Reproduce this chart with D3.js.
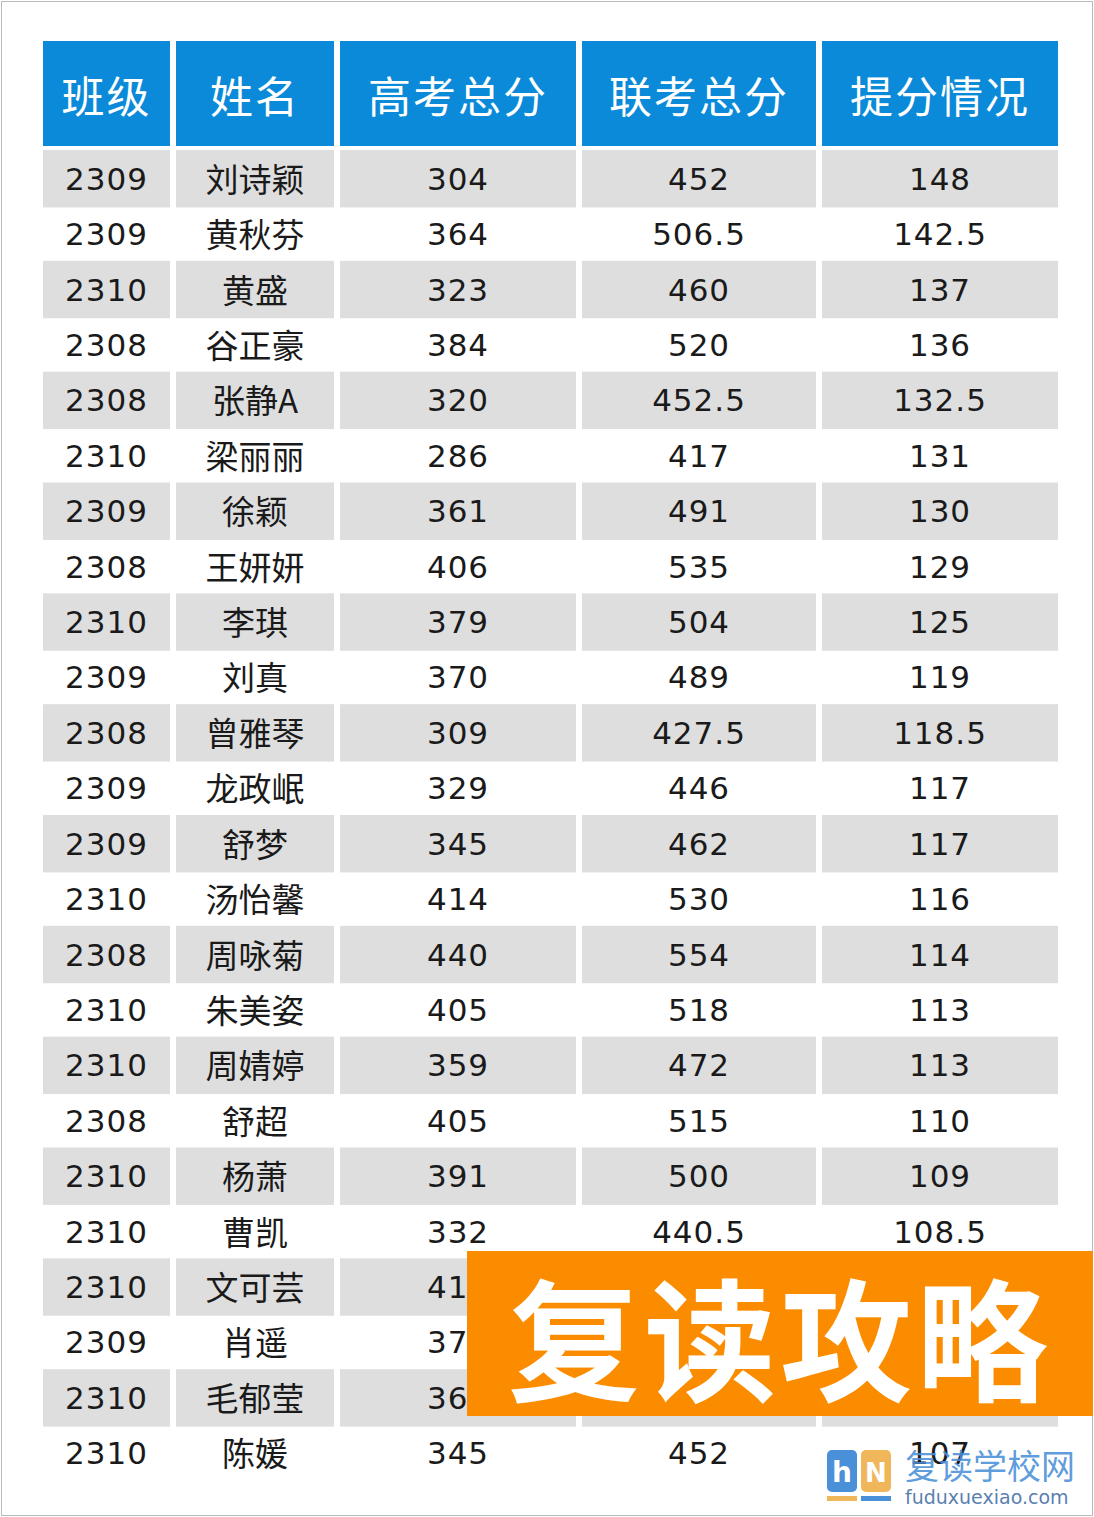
<!DOCTYPE html>
<html><head><meta charset="utf-8">
<script src="https://cdn.jsdelivr.net/npm/d3@7/dist/d3.min.js"></script>
<style>body{margin:0;background:#fff}svg{display:block}</style>
</head><body><svg id="c" width="1094" height="1517"></svg>
<script>
const headers = ["班级","姓名","高考总分","联考总分","提分情况"];
const classes = ["2309","2309","2310","2308","2308","2310","2309","2308","2310","2309","2308","2309","2309","2310","2308","2310","2310","2308","2310","2310","2310","2309","2310","2310"];
const names = ["刘诗颖","黄秋芬","黄盛","谷正豪","张静A","梁丽丽","徐颖","王妍妍","李琪","刘真","曾雅琴","龙政岷","舒梦","汤怡馨","周咏菊","朱美姿","周婧婷","舒超","杨萧","曹凯","文可芸","肖遥","毛郁莹","陈媛"];
const gaokao = ["304","364","323","384","320","286","361","406","379","370","309","329","345","414","440","405","359","405","391","332","412","375","363","345"];
const liankao = ["452","506.5","460","520","452.5","417","491","535","504","489","427.5","446","462","530","554","518","472","515","500","440.5","520","483","471","452"];
const tifen = ["148","142.5","137","136","132.5","131","130","129","125","119","118.5","117","117","116","114","113","113","110","109","108.5","108","108","108","107"];
const cols = [classes,names,gaokao,liankao,tifen];

const svg = d3.select("#c");
svg.append("rect").attr("x",1.5).attr("y",1.5).attr("width",1091).attr("height",1514).attr("fill","none").attr("stroke","#bbb");
const xEdges=[[43,170],[176,334],[340,576],[582,816],[822,1058]];
const y = d3.scaleBand().domain(d3.range(24)).range([150,1480]).paddingInner(0);
xEdges.forEach((e,i)=>{
  svg.append("rect").attr("x",e[0]).attr("y",41).attr("width",e[1]-e[0]).attr("height",105).attr("fill","#0a8ad8");
  svg.append("text").attr("x",(e[0]+e[1])/2).attr("y",94).attr("text-anchor","middle").attr("dominant-baseline","central")
    .attr("fill","#fff").attr("font-family","Noto Sans CJK SC").attr("font-size",43).attr("letter-spacing",2).text(headers[i]);
});
d3.range(24).forEach(r=>{
  xEdges.forEach((e,i)=>{
    if(r%2===0) svg.append("rect").attr("x",e[0]).attr("y",y(r)).attr("width",e[1]-e[0]).attr("height",y.bandwidth()+2).attr("fill","#dedede");
    if(r>=20 && r<=22 && i>=3) return; // fully covered by the overlay
    svg.append("text").attr("x",(e[0]+e[1])/2).attr("y",y(r)+y.bandwidth()/2+(i===1?0:1)).attr("text-anchor","middle").attr("dominant-baseline","central")
      .attr("fill","#1a1a1a").attr("font-family",i===1?"Noto Sans CJK SC":"DejaVu Sans").attr("font-size",i===1?33:31).attr("letter-spacing",i===1?0:1).text(cols[i][r]);
  });
});
svg.append("rect").attr("x",467).attr("y",1251).attr("width",626).attr("height",165).attr("fill","#fb8c00");
svg.append("text").attr("x",780).attr("y",1333).attr("text-anchor","middle").attr("dominant-baseline","central")
  .attr("fill","#fff").attr("font-family","Noto Sans CJK SC").attr("font-weight","bold").attr("font-size",132).attr("letter-spacing",4).text("复读攻略");
const g=svg.append("g");
g.append("rect").attr("x",827).attr("y",1450).attr("width",30).attr("height",42).attr("rx",5).attr("fill","#4a90d9");
g.append("rect").attr("x",861).attr("y",1450).attr("width",30).attr("height",42).attr("rx",5).attr("fill","#f0b75a");
g.append("text").attr("x",842).attr("y",1482).attr("text-anchor","middle").attr("fill","#fff").attr("font-family","DejaVu Sans").attr("font-weight","bold").attr("font-size",28).text("h");
g.append("text").attr("x",876).attr("y",1482).attr("text-anchor","middle").attr("fill","#fff").attr("font-family","DejaVu Sans").attr("font-weight","bold").attr("font-size",26).text("N");
g.append("rect").attr("x",827).attr("y",1496).attr("width",30).attr("height",5).attr("fill","#f0b75a");
g.append("rect").attr("x",861).attr("y",1496).attr("width",30).attr("height",5).attr("fill","#4a90d9");
g.append("text").attr("x",905).attr("y",1479).attr("fill","#4a90d9").attr("fill-opacity",0.9).attr("font-family","Noto Sans CJK SC").attr("font-size",34).text("复读学校网");
g.append("text").attr("x",905).attr("y",1504).attr("fill","#5a7fb0").attr("font-family","DejaVu Sans").attr("font-size",19).text("fuduxuexiao.com");
</script></body></html>
